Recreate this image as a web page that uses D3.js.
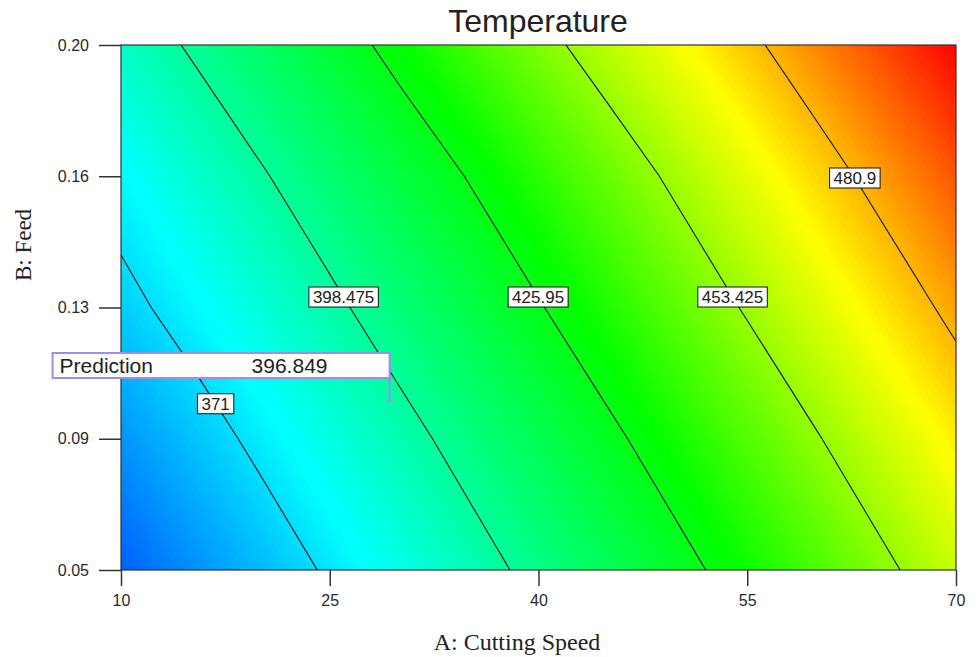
<!DOCTYPE html>
<html>
<head>
<meta charset="utf-8">
<script src="https://cdn.jsdelivr.net/npm/d3@7/dist/d3.min.js"></script>
<style>
  body { margin: 0; background: #fff; }
  svg { display: block; }
</style>
</head>
<body>
<svg width="978" height="657"></svg>
<script>
// A: cutting speed columns, B: feed rows (top row first)
const speedValues = [10, 15, 20, 25, 30, 35, 40, 45, 50, 55, 60, 65, 70]
const feedValues = [0.20, 0.1625, 0.125, 0.0875, 0.05]

// temperature at each (feed, speed)
const temperature = [
  [390.0, 399.8, 409.6, 419.6, 430.0, 439.8, 449.6, 459.3, 468.8, 478.4, 488.1, 497.9, 507.5],
  [377.0, 387.3, 397.1, 406.9, 416.8, 426.6, 436.4, 446.2, 456.0, 465.8, 475.7, 485.5, 495.3],
  [367.0, 376.2, 385.8, 395.6, 405.5, 415.3, 425.1, 434.9, 444.8, 454.6, 464.4, 474.1, 483.9],
  [354.5, 364.3, 374.1, 383.9, 393.8, 403.6, 413.4, 423.2, 433.0, 442.8, 452.7, 462.5, 472.3],
  [343.0, 352.9, 362.8, 372.8, 382.8, 392.7, 402.5, 412.3, 422.0, 431.8, 441.6, 451.5, 461.3]
]

const contourLevels = [371, 398.475, 425.95, 453.425, 480.9]
const labelFeed = [0.0975, 0.128, 0.128, 0.128, 0.162]

const speedTicks = [10, 25, 40, 55, 70]
const feedTicks = [0.05, 0.0875, 0.125, 0.1625, 0.20]
const feedTickLabels = ["0.05", "0.09", "0.13", "0.16", "0.20"]

const predictionPoint = [29.3, 0.0983]
const predictionValue = "396.849"

let svg = d3.select("svg")
let pl = 121, pr = 956, pt = 45, pb = 570

let x = d3.scaleLinear().domain([10, 70]).range([pl, pr])
let y = d3.scaleLinear().domain([0.05, 0.20]).range([pb, pt])

let color = d3.scaleLinear()
  .domain([322, 378, 430, 470, 508])
  .range(["#0000ff", "#00ffff", "#00ff00", "#ffff00", "#ff0000"])
  .clamp(true)

// grid for d3.contours, edges repeated once so the plot edge sits inside it
let nx = speedValues.length + 2, ny = feedValues.length + 2
let values = []
for (let j = 0; j < ny; j++) {
  let r = Math.max(0, Math.min(feedValues.length - 1, j - 1))
  for (let i = 0; i < nx; i++) {
    let c = Math.max(0, Math.min(speedValues.length - 1, i - 1))
    values.push(temperature[r][c])
  }
}

let gx = d3.scaleLinear().domain([1.5, speedValues.length + 0.5])
  .range([x(speedValues[0]), x(speedValues[speedValues.length - 1])])
let gy = d3.scaleLinear().domain([1.5, feedValues.length + 0.5])
  .range([y(feedValues[0]), y(feedValues[feedValues.length - 1])])

let proj = d3.geoTransform({
  point: function(px, py) { this.stream.point(gx(px), gy(py)) }
})
let path = d3.geoPath(proj)

svg.append("clipPath").attr("id", "plot")
  .append("rect")
    .attr("x", pl).attr("y", pt)
    .attr("width", pr - pl).attr("height", pb - pt)

let plot = svg.append("g").attr("clip-path", "url(#plot)")

let lo = d3.min(values), hi = d3.max(values)
plot.append("rect")
    .attr("x", pl).attr("y", pt)
    .attr("width", pr - pl).attr("height", pb - pt)
    .attr("fill", color(lo))

let bands = d3.range(Math.floor(lo), Math.ceil(hi), 1)
plot.append("g")
  .selectAll("path")
  .data(d3.contours().size([nx, ny]).thresholds(bands)(values))
  .enter().append("path")
    .attr("d", path)
    .attr("fill", function(d){ return color(d.value + 0.5) })

let lines = d3.contours().size([nx, ny]).thresholds(contourLevels)(values)

plot.append("g")
  .selectAll("path")
  .data(lines)
  .enter().append("path")
    .attr("d", path)
    .attr("fill", "none")
    .attr("stroke", "#111")
    .attr("stroke-width", 1.1)

// frame
svg.append("rect")
    .attr("x", pl).attr("y", pt)
    .attr("width", pr - pl).attr("height", pb - pt)
    .attr("fill", "none")
    .attr("stroke", "#333")
    .attr("stroke-width", 1.2)

// contour labels, placed where each line crosses its feed value
function crossing(geom, py) {
  let best = null
  geom.coordinates.forEach(function(poly){
    poly.forEach(function(ring){
      for (let k = 1; k < ring.length; k++) {
        let x0 = gx(ring[k-1][0]), y0 = gy(ring[k-1][1])
        let x1 = gx(ring[k][0]), y1 = gy(ring[k][1])
        if ((y0 - py) * (y1 - py) <= 0 && y0 !== y1) {
          let cx = x0 + (py - y0) / (y1 - y0) * (x1 - x0)
          if (cx > pl && cx < pr && (best === null || cx < best)) best = cx
        }
      }
    })
  })
  return best
}

let labels = svg.append("g")
lines.forEach(function(d, i){
  let py = y(labelFeed[i])
  let px = crossing(d, py)
  if (px === null) return
  let g = labels.append("g")
  let t = g.append("text")
      .attr("x", px).attr("y", py)
      .attr("dy", "0.36em")
      .attr("text-anchor", "middle")
      .attr("font-family", "Liberation Sans, Arial, sans-serif")
      .attr("font-size", 17)
      .attr("fill", "#222")
      .text(d3.format("")(contourLevels[i]))
  let w = t.node().getComputedTextLength() + 8
  g.insert("rect", "text")
      .attr("x", px - w / 2).attr("y", py - 10)
      .attr("width", w).attr("height", 20)
      .attr("fill", "#fff")
      .attr("stroke", "#111")
      .attr("stroke-width", 1)
})

// axes
let yAxis = d3.axisLeft(y)
  .tickValues(feedTicks)
  .tickFormat(function(d, i){ return feedTickLabels[i] })
  .tickSizeInner(22).tickSizeOuter(0).tickPadding(10)

let xAxis = d3.axisBottom(x)
  .tickValues(speedTicks)
  .tickFormat(d3.format("d"))
  .tickSizeInner(16).tickSizeOuter(0).tickPadding(9)

let gyAxis = svg.append("g").attr("transform", "translate(" + pl + ",0)").call(yAxis)
let gxAxis = svg.append("g").attr("transform", "translate(0," + pb + ")").call(xAxis)

;[gyAxis, gxAxis].forEach(function(g){
  g.select(".domain").remove()
  g.selectAll(".tick line").attr("stroke", "#333").attr("stroke-width", 1.5)
  g.selectAll(".tick text")
    .attr("font-family", "Liberation Sans, Arial, sans-serif")
    .attr("font-size", 16)
    .attr("fill", "#2a2a2a")
})

// titles
svg.append("text")
    .attr("x", 538).attr("y", 32)
    .attr("text-anchor", "middle")
    .attr("font-family", "Liberation Sans, Arial, sans-serif")
    .attr("font-size", 32)
    .attr("fill", "#222")
    .text("Temperature")

svg.append("text")
    .attr("x", 517).attr("y", 650)
    .attr("text-anchor", "middle")
    .attr("font-family", "Liberation Serif, Times New Roman, serif")
    .attr("font-size", 24)
    .attr("fill", "#222")
    .text("A: Cutting Speed")

svg.append("text")
    .attr("transform", "translate(31,245) rotate(-90)")
    .attr("text-anchor", "middle")
    .attr("font-family", "Liberation Serif, Times New Roman, serif")
    .attr("font-size", 23)
    .attr("fill", "#222")
    .text("B: Feed")

// prediction flag
let pinX = x(predictionPoint[0]), pinY = y(predictionPoint[1])
let flag = svg.append("g")
flag.append("line")
    .attr("x1", pinX).attr("x2", pinX)
    .attr("y1", 366).attr("y2", pinY)
    .attr("stroke", "#9f8cf0").attr("stroke-width", 2)
flag.append("line")
    .attr("x1", pinX - 3).attr("x2", pinX + 3)
    .attr("y1", pinY).attr("y2", pinY)
    .attr("stroke", "#9f8cf0").attr("stroke-width", 1.5)
flag.append("rect")
    .attr("x", pinX - 337).attr("y", 353)
    .attr("width", 337).attr("height", 25)
    .attr("fill", "#fff")
    .attr("stroke", "#9f8cf0").attr("stroke-width", 2)
flag.append("text")
    .attr("x", pinX - 330).attr("y", 373)
    .attr("font-family", "Liberation Sans, Arial, sans-serif")
    .attr("font-size", 21)
    .attr("fill", "#222")
    .text("Prediction")
flag.append("text")
    .attr("x", pinX - 138).attr("y", 373)
    .attr("font-family", "Liberation Sans, Arial, sans-serif")
    .attr("font-size", 21)
    .attr("fill", "#222")
    .text(predictionValue)
</script>
</body>
</html>
